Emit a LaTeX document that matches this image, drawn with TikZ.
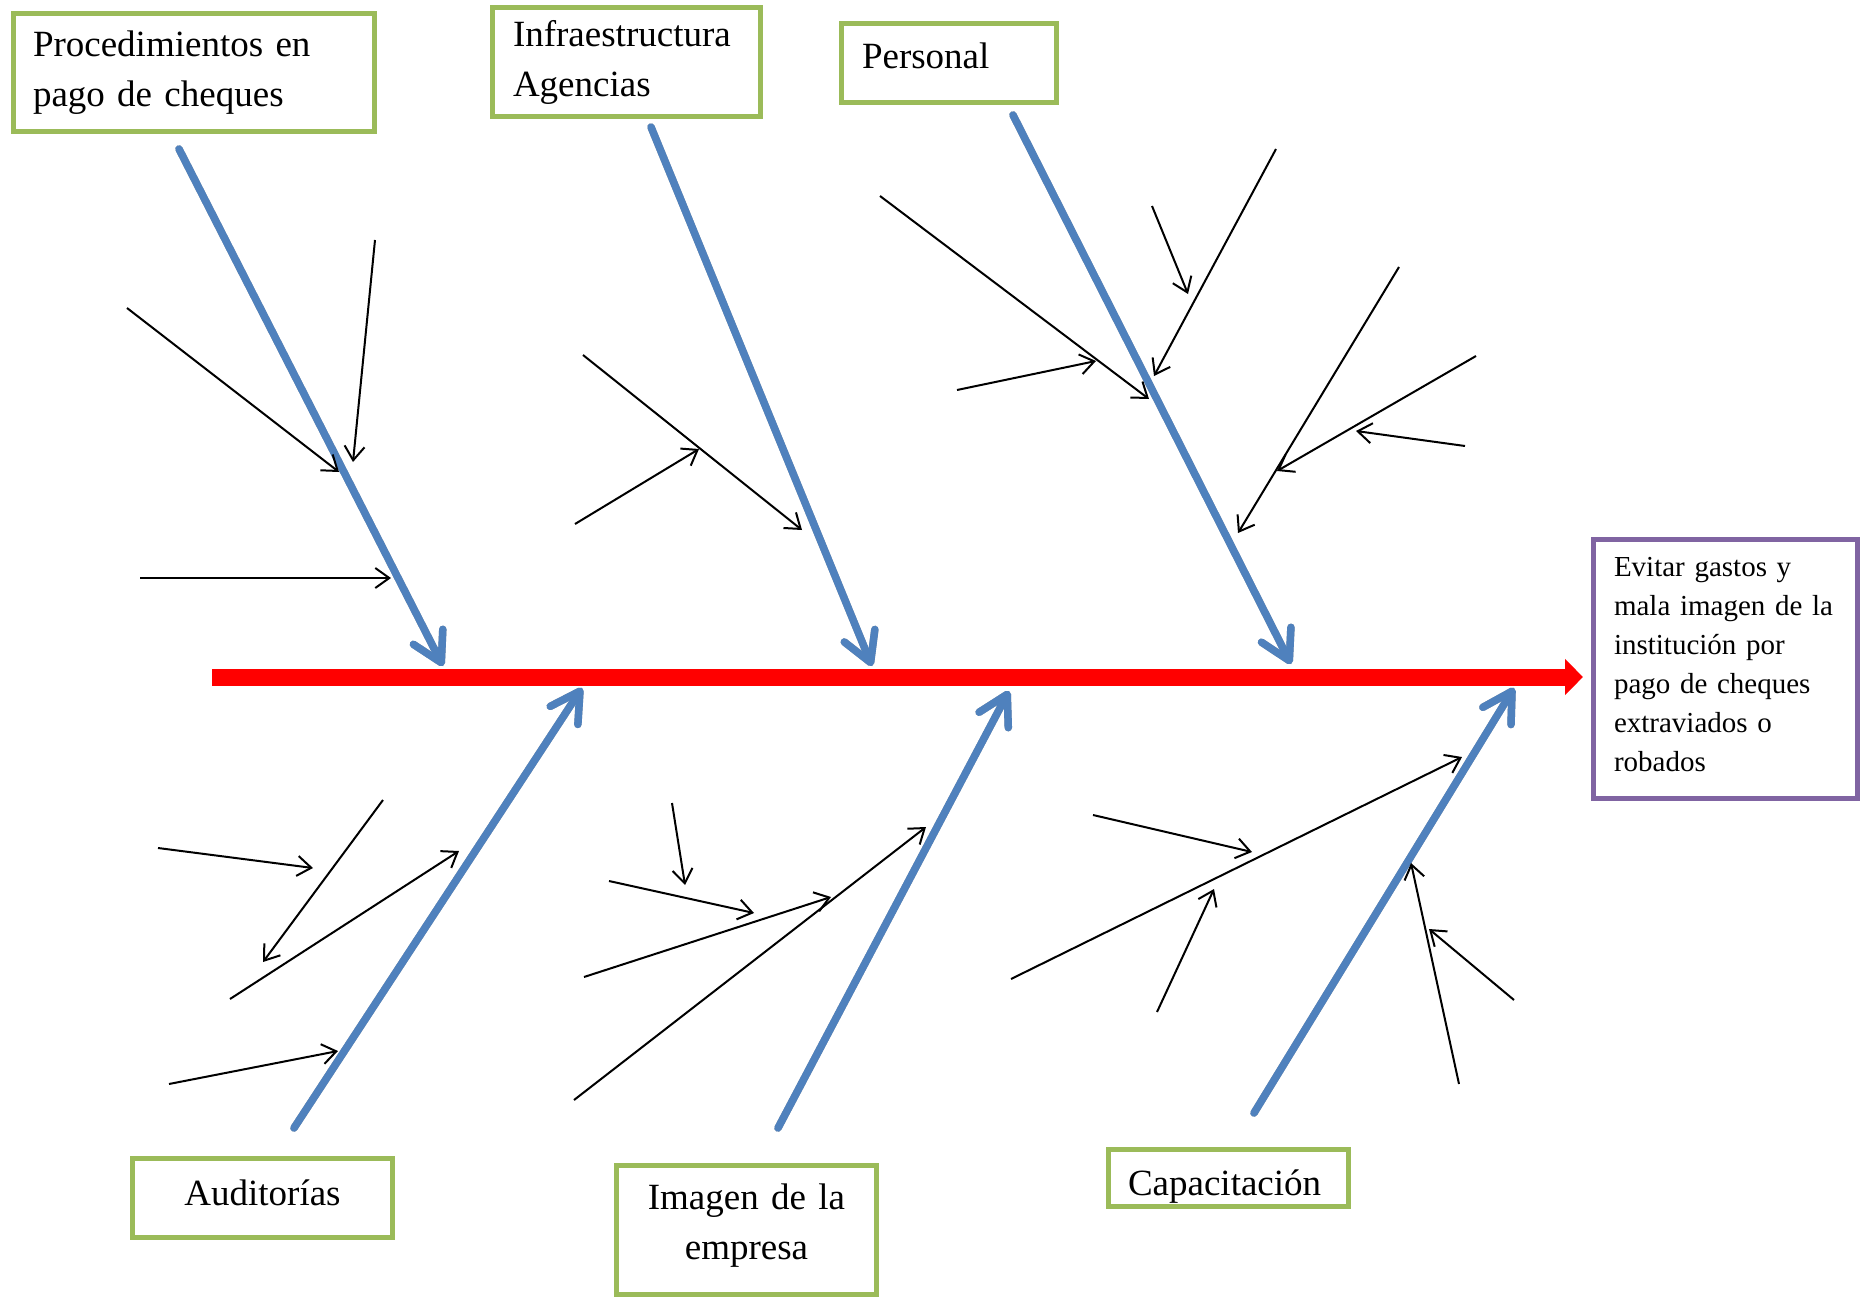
\documentclass[tikz,border=0pt]{standalone}
\usepackage{fontspec}
\setmainfont{Liberation Serif}
\usetikzlibrary{arrows.meta}
\definecolor{boxgreen}{HTML}{9BBB59}
\definecolor{boxpurple}{HTML}{8064A2}
\definecolor{boneblue}{HTML}{4F81BD}
\definecolor{shadowgray}{HTML}{A6A6A6}
\definecolor{spinered}{HTML}{FF0000}
\tikzset{
  catbox/.style={draw=boxgreen, line width=5pt, fill=white, inner sep=0pt,
    font=\fontsize{37}{50}\selectfont},
  effbox/.style={draw=boxpurple, line width=4.5pt, fill=white, inner sep=0pt,
    align=left, font=\fontsize{29}{39}\selectfont},
  bonetip/.style={-{Straight Barb[length=29pt,width=33pt,round]}},
  bone/.style={bonetip, line width=7.5pt, draw=boneblue, line cap=round},
  boneshadow/.style={bonetip, line width=7.5pt, draw=shadowgray, line cap=round, shift={(0,3.5)}},
  twig/.style={line width=2pt, draw=black, -{Straight Barb[length=14pt,width=20pt]}},
  spine/.style={draw=spinered, line width=17pt, -{Triangle[length=18pt,width=35pt]}}
}
\begin{document}
\begin{tikzpicture}[x=1pt,y=-1pt]
\useasboundingbox (0,0) rectangle (1866,1300);

% category boxes
\node[catbox, minimum width=361pt, minimum height=118pt, text width=322pt, align=left]
  (proc) at (194,72.5) {Procedimientos en\\pago de cheques};
\node[catbox, minimum width=268pt, minimum height=109pt, text width=227pt, align=left]
  (infra) at (626.5,62) {Infraestructura\\Agencias};
\node[catbox, minimum width=215pt, minimum height=79pt, text width=174pt, align=left,
  text height=26pt, text depth=14pt]
  (pers) at (949,63) {Personal};
\node[catbox, minimum width=260pt, minimum height=79pt, text width=220pt, align=center,
  text height=28pt, text depth=14pt]
  (aud) at (262.5,1198) {Auditorías};
\node[catbox, minimum width=260pt, minimum height=129pt, text width=220pt, align=center,
  text height=26pt, text depth=68pt]
  (imag) at (746.5,1230) {Imagen de la\\empresa};
\node[catbox, minimum width=240pt, minimum height=57pt, text width=201pt, align=left,
  text height=40pt, text depth=6pt]
  (capa) at (1228.5,1178) {Capacitación};
\node[effbox, minimum width=264pt, minimum height=259pt, text width=223pt,
  text height=20pt, text depth=206pt]
  (eff) at (1725.5,669) {Evitar gastos y\\mala imagen de la\\institución por\\pago de cheques\\extraviados o\\robados};

% spine
\coordinate (spineL) at (212,677);
\coordinate (spineR) at (1583,677);
\draw[spine] (spineL) -- (spineR);

% main bones
\coordinate (t1s) at (179,149);  \coordinate (t1e) at (443,666);
\coordinate (t2s) at (651,127);  \coordinate (t2e) at (872,666);
\coordinate (t3s) at (1013,115); \coordinate (t3e) at (1291,664);
\coordinate (b1s) at (294,1128); \coordinate (b1e) at (582,688);
\coordinate (b2s) at (778,1128); \coordinate (b2e) at (1009,691);
\coordinate (b3s) at (1254,1113);\coordinate (b3e) at (1514,688);
\foreach \b in {t1,t2,t3,b1,b2,b3}{
  \draw[boneshadow] (\b s) -- (\b e);
  \draw[bone] (\b s) -- (\b e);
}

% sub-causes
\coordinate (as) at (375,240);  \coordinate (ae) at (353,462);
\coordinate (bs) at (127,308);  \coordinate (be) at (339,472);
\coordinate (cs) at (140,578);  \coordinate (ce) at (391,578);
\coordinate (ds) at (583,355);  \coordinate (de) at (802,530);
\coordinate (es) at (575,524);  \coordinate (ee) at (699,449);
\coordinate (fs) at (880,196);  \coordinate (fe) at (1149,399);
\coordinate (gs) at (957,390);  \coordinate (ge) at (1096,361);
\coordinate (hs) at (1276,149); \coordinate (he) at (1154,376);
\coordinate (is) at (1152,206); \coordinate (ie) at (1188,294);
\coordinate (js) at (1399,267); \coordinate (je) at (1238,533);
\coordinate (ks) at (1476,356); \coordinate (ke) at (1277,471);
\coordinate (ls) at (1465,446); \coordinate (le) at (1356,431);
\coordinate (ms) at (158,848);  \coordinate (me) at (313,868);
\coordinate (ns) at (383,800);  \coordinate (ne) at (263,962);
\coordinate (os) at (230,999);  \coordinate (oe) at (459,851);
\coordinate (ps) at (169,1084); \coordinate (pe) at (338,1051);
\coordinate (qs) at (672,803);  \coordinate (qe) at (685,885);
\coordinate (rs) at (609,881);  \coordinate (re) at (754,913);
\coordinate (ss) at (584,977);  \coordinate (se) at (831,897);
\coordinate (ts) at (574,1100); \coordinate (te) at (926,827);
\coordinate (us) at (1093,815); \coordinate (ue) at (1252,852);
\coordinate (vs) at (1011,979); \coordinate (ve) at (1462,757);
\coordinate (ws) at (1157,1012);\coordinate (we) at (1214,889);
\coordinate (xs) at (1459,1084);\coordinate (xe) at (1411,863);
\coordinate (ys) at (1514,1000);\coordinate (ye) at (1429,929);
\foreach \t in {a,b,c,d,e,f,g,h,i,j,k,l,m,n,o,p,q,r,s,t,u,v,w,x,y}{
  \draw[twig] (\t s) -- (\t e);
}
\end{tikzpicture}
\end{document}
